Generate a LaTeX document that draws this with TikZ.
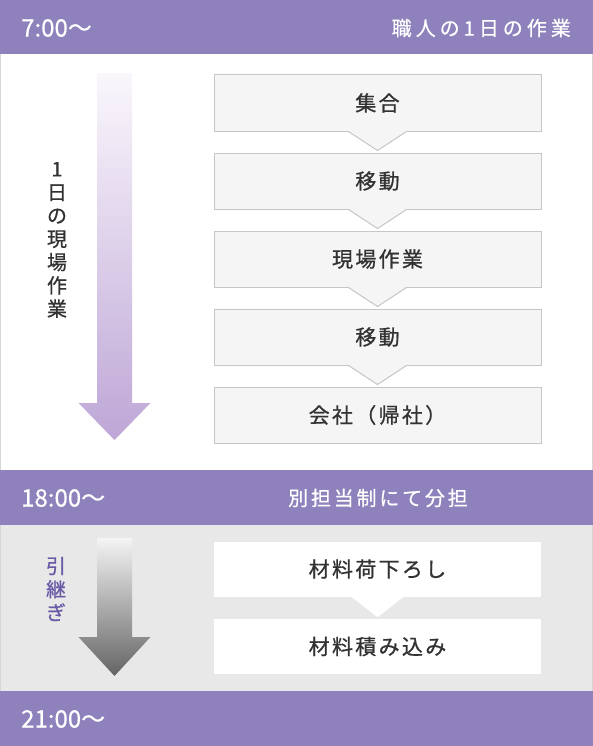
\documentclass[tikz,border=0pt]{standalone}
\usepackage{fontspec}
\setmainfont{Noto Sans CJK JP}[FakeBold=0.6]
\newfontfamily\jpbox{Noto Sans CJK JP}[LetterSpace=11,FakeBold=0.8]
\newfontfamily\jpbar{Noto Sans CJK JP}[LetterSpace=14,FakeBold=0.6]
\newfontfamily\jptitle{Noto Sans CJK JP}[LetterSpace=20,FakeBold=0.6]
\usetikzlibrary{calc}
\definecolor{barpurple}{RGB}{142,129,188}
\definecolor{graybg}{RGB}{232,232,232}
\definecolor{boxfill}{RGB}{245,245,245}
\definecolor{boxline}{RGB}{198,198,198}
\definecolor{textdark}{RGB}{50,50,50}
\definecolor{labpurple}{RGB}{106,90,166}
\definecolor{sideline}{RGB}{214,214,214}
\definecolor{arrtop}{RGB}{250,247,252}
\definecolor{arrbot}{RGB}{190,166,214}
\definecolor{garrtop}{RGB}{244,244,244}
\definecolor{garrbot}{RGB}{100,100,100}
\tikzset{
  bar/.style={fill=barpurple},
  timelabel/.style={anchor=west, text=white, inner sep=0pt, font=\fontsize{24bp}{26bp}\selectfont},
  barlabel/.style={text=white, inner sep=0pt, font=\jpbar\fontsize{20bp}{23bp}\selectfont},
  titlelabel/.style={text=white, inner sep=0pt, font=\jptitle\fontsize{20bp}{23bp}\selectfont},
  stepbox/.style={draw=boxline, line width=1bp, fill=boxfill, minimum width=327bp, minimum height=56bp, inner sep=0pt, text=textdark, font=\jpbox\fontsize{21bp}{24bp}\selectfont},
  whitebox/.style={fill=white, minimum width=327bp, minimum height=55bp, inner sep=0pt, text=textdark, font=\jpbox\fontsize{21bp}{24bp}\selectfont},
  vtext/.style={align=center, inner sep=0pt, font=\fontsize{20bp}{23.3bp}\selectfont},
}
\begin{document}
\begin{tikzpicture}[x=1bp,y=-1bp]
\useasboundingbox (0,0) rectangle (593,746);
% backgrounds
\fill[white] (0,54) rectangle (593,470);
\fill[graybg] (0,525) rectangle (593,691);
\draw[sideline, line width=1bp] (0.5,54) -- (0.5,470) (592.5,54) -- (592.5,470);
\draw[sideline, line width=1bp] (0.5,525) -- (0.5,691) (592.5,525) -- (592.5,691);
\fill[bar] (0,0) rectangle (593,54);
\fill[bar] (0,470) rectangle (593,525);
\fill[bar] (0,691) rectangle (593,746);
% bar labels
\node[timelabel] (t1) at (21,28) {7:00～};
\node[titlelabel, anchor=east] (h1) at (571,28) {職人の1日の作業};
\node[timelabel] (t2) at (21,498) {18:00～};
\node[barlabel] (h2) at (378,498) {別担当制にて分担};
\node[timelabel] (t3) at (21,719) {21:00～};
% big arrows
\shade[top color=arrtop, bottom color=arrbot]
  (97,73) -- (132,73) -- (132,403) -- (150.5,403) -- (114.5,440) -- (78.5,403) -- (97,403) -- cycle;
\shade[top color=garrtop, bottom color=garrbot]
  (97,538) -- (132,538) -- (132,637) -- (150.5,637) -- (114.5,676) -- (78.5,637) -- (97,637) -- cycle;
\node[vtext, text=textdark] (v1) at (57,240) {1\\日\\の\\現\\場\\作\\業};
\node[vtext, text=labpurple] (v2) at (56,589) {引\\継\\ぎ};
% step boxes
\node[stepbox] (b1) at (377.5,103) {集合};
\node[stepbox] (b2) at (377.5,181) {移動};
\node[stepbox] (b3) at (377.5,259) {現場作業};
\node[stepbox] (b4) at (377.5,337) {移動};
\node[stepbox] (b5) at (377.5,415) {会社（帰社）};
\foreach \n in {b1,b2,b3,b4}{
  \fill[boxfill] ($(\n.south)+(-29,-0.5)$) -- ($(\n.south)+(0,19)$) -- ($(\n.south)+(29,-0.5)$) -- cycle;
  \draw[boxline, line width=1bp] ($(\n.south)+(-29,0)$) -- ($(\n.south)+(0,19)$) -- ($(\n.south)+(29,0)$);
}
\node[whitebox] (w1) at (377.5,569) {材料荷下ろし};
\node[whitebox] (w2) at (377.5,646.5) {材料積み込み};
\fill[white] ($(w1.south)+(-27,-0.5)$) -- ($(w1.south)+(0,20.5)$) -- ($(w1.south)+(27,-0.5)$) -- cycle;
\end{tikzpicture}
\end{document}
